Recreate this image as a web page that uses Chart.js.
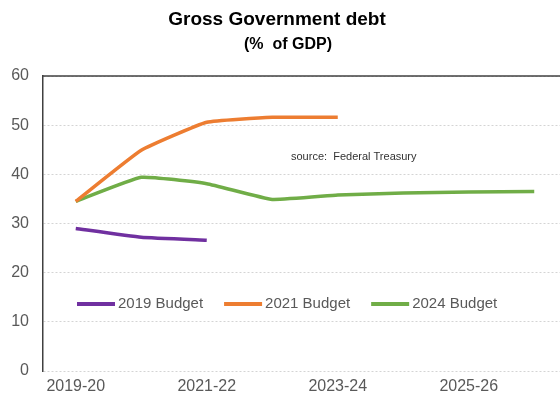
<!DOCTYPE html>
<html>
<head>
<meta charset="utf-8">
<script src="https://cdn.jsdelivr.net/npm/chart.js@4"></script>
<style>
  html, body { margin: 0; padding: 0; background: #fff; overflow: hidden; }
  #wrap { width: 560px; height: 396px; overflow: hidden; }
</style>
</head>
<body>
<div id="wrap"><canvas id="debtChart" width="568" height="396"></canvas></div>
<script>
// chart data
const years = ['2019-20', '2020-21', '2021-22', '2022-23', '2023-24', '2024-25', '2025-26', '2026-27'];
const budget2019 = [29.0, 27.2, 26.6, null, null, null, null, null];
const budget2021 = [34.5, 44.9, 50.6, 51.6, 51.6, null, null, null];
const budget2024 = [34.5, 39.4, 38.1, 34.9, 35.8, 36.2, 36.4, 36.5];
const yTicks = [0, 10, 20, 30, 40, 50, 60];

const FONT = '"Liberation Sans", Arial, sans-serif';
const GREY = '#595959';

// titles, source note, legend and top frame line
const decorPlugin = {
    id: 'decor',
    afterDraw(chart) {
        const ctx = chart.ctx;
        const area = chart.chartArea;
        ctx.save();

        // top frame line
        ctx.strokeStyle = '#404040';
        ctx.lineWidth = 1.5;
        ctx.beginPath();
        ctx.moveTo(area.left, area.top);
        ctx.lineTo(area.right, area.top);
        ctx.stroke();

        // title + subtitle
        ctx.fillStyle = '#000';
        ctx.textAlign = 'center';
        ctx.textBaseline = 'middle';
        ctx.font = 'bold 19px ' + FONT;
        ctx.fillText('Gross Government debt', 277, 20);
        ctx.font = 'bold 16px ' + FONT;
        ctx.fillText('(%  of GDP)', 288, 45);

        // source note
        ctx.font = '11px ' + FONT;
        ctx.fillStyle = '#333';
        ctx.textAlign = 'left';
        ctx.fillText('source:  Federal Treasury', 291, 157);

        // legend inside plot
        ctx.font = '15px ' + FONT;
        let x = 77;
        const y = 304;
        chart.data.datasets.forEach(ds => {
            ctx.strokeStyle = ds.borderColor;
            ctx.lineWidth = 4;
            ctx.beginPath();
            ctx.moveTo(x, y);
            ctx.lineTo(x + 38, y);
            ctx.stroke();
            ctx.fillStyle = GREY;
            ctx.fillText(ds.label, x + 41, y);
            x += 41 + ctx.measureText(ds.label).width + 21;
        });

        ctx.restore();
    }
};

const ctx = document.getElementById('debtChart').getContext('2d');
const debtChart = new Chart(ctx, {
    type: 'line',
    data: {
        labels: years,
        datasets: [
            { label: '2019 Budget', data: budget2019, borderColor: '#7030A0' },
            { label: '2021 Budget', data: budget2021, borderColor: '#ED7D31' },
            { label: '2024 Budget', data: budget2024, borderColor: '#70AD47' }
        ]
    },
    options: {
        responsive: false,
        devicePixelRatio: 1,
        animation: false,
        spanGaps: false,
        layout: { padding: { top: 76, right: 1, left: 0, bottom: 0 } },
        elements: {
            point: { radius: 0, hoverRadius: 0 },
            line: { borderWidth: 3.5, tension: 0.12, fill: false, borderCapStyle: 'butt' }
        },
        plugins: {
            legend: { display: false },
            title: { display: false },
            tooltip: { enabled: false }
        },
        scales: {
            x: {
                offset: true,
                grid: { display: false, drawTicks: false, tickLength: 0 },
                border: { display: false },
                ticks: {
                    autoSkip: false,
                    maxRotation: 0,
                    padding: 6,
                    color: GREY,
                    font: { family: FONT, size: 16 },
                    callback: function(value, index) {
                        return index % 2 === 0 ? this.getLabelForValue(value) : '';
                    }
                },
                afterFit(scale) { scale.height = 25; }
            },
            y: {
                min: yTicks[0],
                max: yTicks[yTicks.length - 1],
                afterBuildTicks(scale) { scale.ticks = yTicks.map(v => ({ value: v })); },
                grid: { color: '#d4d4d4', lineWidth: 1, drawTicks: false },
                border: { display: true, color: '#404040', width: 1.5, dash: [2, 2] },
                ticks: {
                    padding: 14,
                    color: GREY,
                    font: { family: FONT, size: 16 }
                },
                afterFit(scale) { scale.width = 43; }
            }
        }
    },
    plugins: [decorPlugin]
});
</script>
</body>
</html>
